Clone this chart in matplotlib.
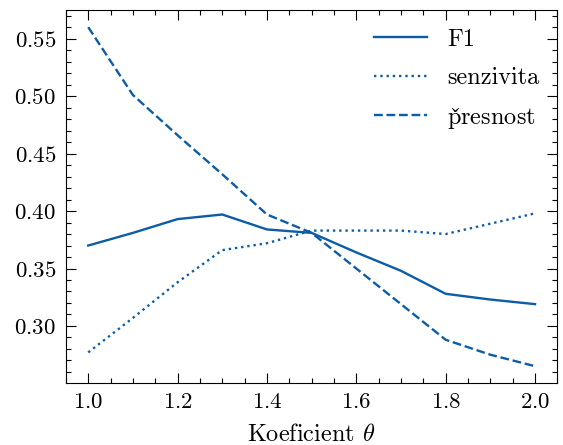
import matplotlib
matplotlib.use('Agg')
import matplotlib.pyplot as plt
from matplotlib.ticker import MultipleLocator

# values
theta = [1.0, 1.1, 1.2, 1.3, 1.4, 1.5, 1.6, 1.7, 1.8, 1.9, 2.0]
f1 = [0.370, 0.381, 0.393, 0.397, 0.384, 0.381, 0.364, 0.348, 0.328, 0.323, 0.319]
senzivita = [0.277, 0.307, 0.338, 0.366, 0.372, 0.383, 0.383, 0.383, 0.380, 0.389, 0.398]
presnost = [0.560, 0.501, 0.466, 0.432, 0.397, 0.381, 0.350, 0.319, 0.288, 0.275, 0.265]

plt.rcParams['font.family'] = ['cmr10', 'DejaVu Serif']
plt.rcParams['mathtext.fontset'] = 'cm'
plt.rcParams['axes.formatter.use_mathtext'] = True
plt.rcParams['axes.unicode_minus'] = False

col = '#0C5DA5'

fig = plt.figure(figsize=[5.63, 4.45], dpi=100)
ax = fig.add_axes([0.117, 0.139, 0.873, 0.838])

ax.plot(theta, f1, color=col, lw=1.7, ls='-', label='F1')
ax.plot(theta, senzivita, color=col, lw=1.7, ls=':', label='senzivita')
ax.plot(theta, presnost, color=col, lw=1.7, ls='--', label=r'$\mathrm{p\check{r}esnost}$')

ax.set_xlabel(r'Koeficient $\theta$', fontsize=17.5, labelpad=8)

ax.xaxis.set_major_locator(MultipleLocator(0.2))
ax.xaxis.set_minor_locator(MultipleLocator(0.05))
ax.yaxis.set_major_locator(MultipleLocator(0.05))
ax.yaxis.set_minor_locator(MultipleLocator(0.01))
ax.tick_params(which='both', direction='in', top=True, right=True, labelsize=16.5)
ax.tick_params(which='major', length=7, width=0.8, pad=7)
ax.tick_params(which='minor', length=3.5, width=0.8)
for s in ax.spines.values():
    s.set_linewidth(0.8)

ax.legend(frameon=False, fontsize=17.5, loc='upper right', handlelength=2.2,
          handletextpad=0.8, labelspacing=0.68, borderaxespad=0.35)

fig.savefig('out.png', dpi=100)
